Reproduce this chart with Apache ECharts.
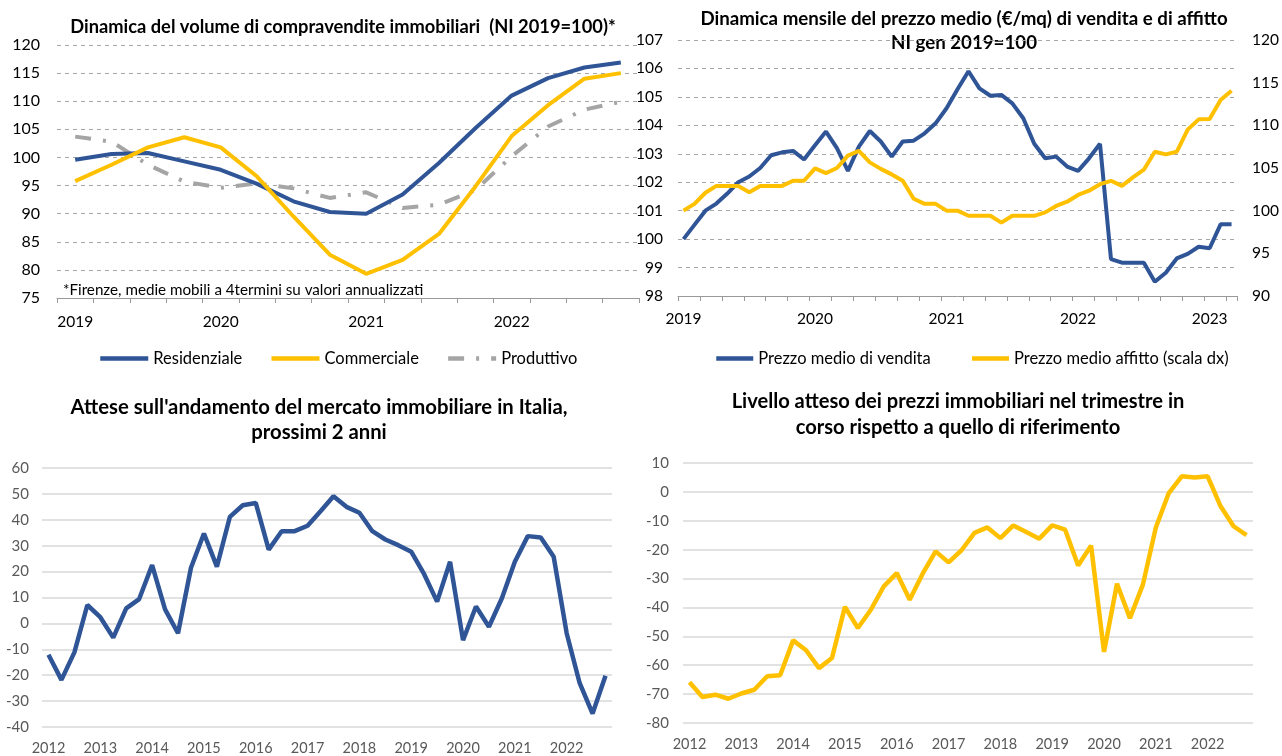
<!DOCTYPE html>
<html>
<head>
<meta charset="utf-8">
<script src="https://cdn.jsdelivr.net/npm/echarts@6/dist/echarts.min.js"></script>
<style>
  html, body { margin: 0; padding: 0; background: #fff; }
  #main { width: 1282px; height: 756px; }
</style>
</head>
<body>
<div id="main"></div>
<script>
// grafico 1: compravendite trimestrali (NI 2019=100)
var trimestri19 = ['2019-T1', '2019-T2', '2019-T3', '2019-T4', '2020-T1', '2020-T2', '2020-T3', '2020-T4',
  '2021-T1', '2021-T2', '2021-T3', '2021-T4', '2022-T1', '2022-T2', '2022-T3', '2022-T4'];
var residenziale = [99.6, 100.6, 100.8, 99.3, 97.8, 95.3, 92.2, 90.3, 90.0, 93.4, 99.0, 105.2, 111.0, 114.1, 116.0, 116.9];
var commerciale = [95.8, 98.7, 101.8, 103.6, 101.8, 96.6, 89.5, 82.7, 79.3, 81.8, 86.4, 94.8, 103.8, 109.3, 114.0, 115.0];
var produttivo = [103.7, 102.8, 98.7, 95.7, 94.6, 95.4, 94.5, 92.8, 93.8, 91.0, 91.6, 94.2, 100.2, 105.5, 108.5, 109.9];

// grafico 2: prezzi mensili
var mesi = ['2019-01', '2019-02', '2019-03', '2019-04', '2019-05', '2019-06', '2019-07', '2019-08', '2019-09', '2019-10', '2019-11', '2019-12',
  '2020-01', '2020-02', '2020-03', '2020-04', '2020-05', '2020-06', '2020-07', '2020-08', '2020-09', '2020-10', '2020-11', '2020-12',
  '2021-01', '2021-02', '2021-03', '2021-04', '2021-05', '2021-06', '2021-07', '2021-08', '2021-09', '2021-10', '2021-11', '2021-12',
  '2022-01', '2022-02', '2022-03', '2022-04', '2022-05', '2022-06', '2022-07', '2022-08', '2022-09', '2022-10', '2022-11', '2022-12',
  '2023-01', '2023-02', '2023-03'];
var prezzoVendita = [100.0, 100.5, 101.0, 101.25, 101.6, 102.0, 102.2, 102.5, 102.95, 103.05, 103.1, 102.8,
  103.3, 103.78, 103.2, 102.4, 103.25, 103.8, 103.43, 102.9, 103.43, 103.46, 103.72, 104.07,
  104.6, 105.27, 105.9, 105.3, 105.04, 105.07, 104.77, 104.25, 103.35, 102.84, 102.9, 102.55,
  102.4, 102.84, 103.35, 99.3, 99.17, 99.17, 99.17, 98.5, 98.82, 99.32, 99.48, 99.73,
  99.68, 100.52, 100.52];
var prezzoAffitto = [100.0, 100.8, 102.1, 102.9, 102.9, 102.9, 102.15, 102.9, 102.9, 102.9, 103.5, 103.5,
  104.96, 104.4, 105.0, 106.45, 107.0, 105.66, 104.9, 104.25, 103.5, 101.4, 100.8, 100.8,
  100.0, 100.0, 99.4, 99.4, 99.4, 98.6, 99.4, 99.4, 99.4, 99.8, 100.55, 101.05,
  101.84, 102.34, 103.1, 103.5, 102.9, 103.9, 104.8, 106.9, 106.6, 106.9, 109.5, 110.7,
  110.74, 112.97, 114.06];

// grafici 3 e 4: sondaggio trimestrale 2012-2022
var trimestri12 = ['2012-T1', '2012-T2', '2012-T3', '2012-T4', '2013-T1', '2013-T2', '2013-T3', '2013-T4',
  '2014-T1', '2014-T2', '2014-T3', '2014-T4', '2015-T1', '2015-T2', '2015-T3', '2015-T4',
  '2016-T1', '2016-T2', '2016-T3', '2016-T4', '2017-T1', '2017-T2', '2017-T3', '2017-T4',
  '2018-T1', '2018-T2', '2018-T3', '2018-T4', '2019-T1', '2019-T2', '2019-T3', '2019-T4',
  '2020-T1', '2020-T2', '2020-T3', '2020-T4', '2021-T1', '2021-T2', '2021-T3', '2021-T4',
  '2022-T1', '2022-T2', '2022-T3', '2022-T4'];
var attese = [-12.1, -21.8, -11.2, 7.1, 2.4, -5.5, 5.8, 9.4, 22.5, 5.4,
  -3.8, 21.5, 34.7, 21.9, 41.1, 45.6, 46.5, 28.5, 35.6, 35.6,
  37.7, 43.3, 49.1, 45.0, 42.7, 35.6, 32.4, 30.2, 27.7, 19.0,
  8.4, 23.8, -6.5, 6.5, -1.3, 9.7, 23.8, 33.7, 33.2, 25.7,
  -3.8, -23.0, -34.8, -20.2];
var livelloPrezzi = [-65.9, -71.0, -70.2, -71.6, -69.8, -68.5, -63.8, -63.5, -51.4, -54.8,
  -61.0, -57.5, -39.8, -47.1, -40.8, -32.7, -28.1, -37.3, -28.3, -20.6,
  -24.4, -20.2, -14.2, -12.3, -16.0, -11.6, -13.9, -16.2, -11.6, -13.1,
  -25.5, -18.6, -55.4, -31.8, -43.7, -32.1, -12.3, -0.4, 5.4, 5.0,
  5.4, -5.0, -11.9, -15.0];

var FONT = 'Lato';
var BLU = '#2f5597';
var GIALLO = '#ffc000';
var GRIGIO = '#a5a5a5';

function anno(v) {
  return v.slice(0, 4);
}

function titolo(testo, x, y, size, lh) {
  return {
    type: 'text',
    x: x,
    y: y,
    style: {
      text: testo,
      align: 'center',
      textAlign: 'center',
      verticalAlign: 'middle',
      textVerticalAlign: 'middle',
      fontFamily: FONT,
      fontWeight: 'bold',
      fontSize: size,
      lineHeight: lh || 24,
      fill: '#000'
    }
  };
}

var myChart = echarts.init(document.getElementById('main'));
var option;

option = {
  animation: false,
  backgroundColor: '#fff',
  textStyle: { fontFamily: FONT },
  graphic: [
    titolo('Dinamica del volume di compravendite immobiliari  (NI 2019=100)*', 343, 27, 18.3),
    titolo('Dinamica mensile del prezzo medio (€/mq) di vendita e di affitto\nNI gen 2019=100', 964, 31, 18.7, 24),
    titolo("Attese sull'andamento del mercato immobiliare in Italia,\nprossimi 2 anni", 319, 420, 20.3, 25),
    titolo('Livello atteso dei prezzi immobiliari nel trimestre in\ncorso rispetto a quello di riferimento', 958, 415, 20.1, 26),
    {
      type: 'text',
      x: 63,
      y: 290,
      style: {
        text: '*Firenze, medie mobili a 4termini su valori annualizzati',
        verticalAlign: 'middle',
        textVerticalAlign: 'middle',
        fontFamily: FONT,
        fontSize: 15.2,
        fill: '#000'
      }
    }
  ],
  legend: [
    {
      left: 98,
      top: 350,
      padding: 0,
      itemWidth: 48,
      itemHeight: 14,
      itemGap: 27,
      itemStyle: { opacity: 0 },
      lineStyle: { width: 4.5 },
      textStyle: { fontFamily: FONT, fontSize: 16.5, color: '#000' },
      data: ['Residenziale', 'Commerciale', 'Produttivo']
    },
    {
      left: 714,
      top: 350,
      padding: 0,
      itemWidth: 37,
      itemHeight: 14,
      itemGap: 39,
      itemStyle: { opacity: 0 },
      lineStyle: { width: 4.5 },
      textStyle: { fontFamily: FONT, fontSize: 16.5, color: '#000' },
      data: ['Prezzo medio di vendita', 'Prezzo medio affitto (scala dx)']
    }
  ],
  grid: [
    { left: 57, right: 643, top: 45, bottom: 458 },
    { left: 678, right: 40, top: 40, bottom: 460 },
    { left: 42, right: 670, top: 468, bottom: 29 },
    { left: 683, right: 29, top: 463, bottom: 33 }
  ],
  xAxis: [
    {
      type: 'category',
      gridIndex: 0,
      data: trimestri19,
      boundaryGap: true,
      axisLine: { lineStyle: { color: '#999', width: 1 } },
      axisTick: { show: true, interval: 0, length: 5, lineStyle: { color: '#999' } },
      axisLabel: { interval: 3, formatter: anno, margin: 16, fontSize: 15.5, color: '#000', fontFamily: FONT }
    },
    {
      type: 'category',
      gridIndex: 1,
      data: mesi,
      boundaryGap: true,
      axisLine: { lineStyle: { color: '#999', width: 1 } },
      axisTick: { show: true, interval: 1, length: 5, lineStyle: { color: '#999' } },
      axisLabel: { interval: 11, formatter: anno, margin: 15, fontSize: 15.5, color: '#000', fontFamily: FONT }
    },
    {
      type: 'category',
      gridIndex: 2,
      data: trimestri12,
      boundaryGap: true,
      axisLine: { show: false },
      axisTick: { show: false },
      axisLabel: { interval: 3, formatter: anno, margin: 14, fontSize: 14.5, color: '#595959', fontFamily: FONT }
    },
    {
      type: 'category',
      gridIndex: 3,
      data: trimestri12,
      boundaryGap: true,
      axisLine: { show: false },
      axisTick: { show: false },
      axisLabel: { interval: 3, formatter: anno, margin: 14, fontSize: 14.5, color: '#595959', fontFamily: FONT }
    }
  ],
  yAxis: [
    {
      type: 'value',
      gridIndex: 0,
      min: 75,
      max: 120,
      interval: 5,
      axisLine: { show: false },
      axisTick: { show: false },
      axisLabel: { margin: 17, fontSize: 16, color: '#000', fontFamily: FONT },
      splitLine: { lineStyle: { color: '#a6a6a6', type: [4, 4], width: 1 } }
    },
    {
      type: 'value',
      gridIndex: 1,
      min: 98,
      max: 107,
      interval: 1,
      axisLine: { show: false },
      axisTick: { show: false },
      axisLabel: { margin: 15, fontSize: 15.5, color: '#000', fontFamily: FONT },
      splitLine: { lineStyle: { color: '#a6a6a6', type: [4, 4], width: 1 } }
    },
    {
      type: 'value',
      gridIndex: 1,
      position: 'right',
      min: 90,
      max: 120,
      interval: 5,
      axisLine: { show: false },
      axisTick: { show: false },
      axisLabel: { margin: 15, fontSize: 15.5, color: '#000', fontFamily: FONT },
      splitLine: { show: false }
    },
    {
      type: 'value',
      gridIndex: 2,
      min: -40,
      max: 60,
      interval: 10,
      axisLine: { show: false },
      axisTick: { show: false },
      axisLabel: { margin: 13, fontSize: 15, color: '#595959', fontFamily: FONT },
      splitLine: { lineStyle: { color: '#d9d9d9', width: 1.5 } }
    },
    {
      type: 'value',
      gridIndex: 3,
      min: -80,
      max: 10,
      interval: 10,
      axisLine: { show: false },
      axisTick: { show: false },
      axisLabel: { margin: 14, fontSize: 15, color: '#595959', fontFamily: FONT },
      splitLine: { lineStyle: { color: '#d9d9d9', width: 1.5 } }
    }
  ],
  series: [
    {
      name: 'Residenziale',
      type: 'line',
      xAxisIndex: 0,
      yAxisIndex: 0,
      data: residenziale,
      symbol: 'none',
      color: BLU,
      lineStyle: { width: 4, color: BLU }
    },
    {
      name: 'Commerciale',
      type: 'line',
      xAxisIndex: 0,
      yAxisIndex: 0,
      data: commerciale,
      symbol: 'none',
      color: GIALLO,
      lineStyle: { width: 4, color: GIALLO }
    },
    {
      name: 'Produttivo',
      type: 'line',
      xAxisIndex: 0,
      yAxisIndex: 0,
      data: produttivo,
      symbol: 'none',
      color: GRIGIO,
      z: 1,
      lineStyle: { width: 4, color: GRIGIO, type: [16, 12, 3, 12] }
    },
    {
      name: 'Prezzo medio di vendita',
      type: 'line',
      xAxisIndex: 1,
      yAxisIndex: 1,
      data: prezzoVendita,
      symbol: 'none',
      color: BLU,
      z: 3,
      lineStyle: { width: 4, color: BLU }
    },
    {
      name: 'Prezzo medio affitto (scala dx)',
      type: 'line',
      xAxisIndex: 1,
      yAxisIndex: 2,
      data: prezzoAffitto,
      symbol: 'none',
      color: GIALLO,
      lineStyle: { width: 4, color: GIALLO }
    },
    {
      name: 'Attese',
      type: 'line',
      xAxisIndex: 2,
      yAxisIndex: 3,
      data: attese,
      symbol: 'none',
      color: BLU,
      lineStyle: { width: 4.5, color: BLU }
    },
    {
      name: 'Livello atteso',
      type: 'line',
      xAxisIndex: 3,
      yAxisIndex: 4,
      data: livelloPrezzi,
      symbol: 'none',
      color: GIALLO,
      lineStyle: { width: 4.5, color: GIALLO }
    }
  ]
};

option && myChart.setOption(option);
</script>
</body>
</html>
